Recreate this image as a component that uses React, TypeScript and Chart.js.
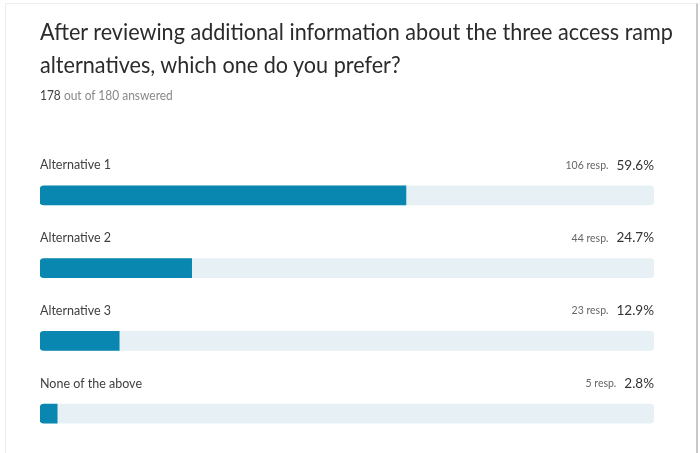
import React, { useEffect, useRef } from "react";
import { Chart, registerables } from "chart.js";

Chart.register(...registerables);

const titleLines = [
  "After reviewing additional information about the three access ramp",
  "alternatives, which one do you prefer?",
];
const answered = 178;
const total = 180;
const categories = ["Alternative 1", "Alternative 2", "Alternative 3", "None of the above"];
const responses = [106, 44, 23, 5];
const percents = [59.6, 24.7, 12.9, 2.8];
const trackValues = [100, 100, 100, 100];

const FONT = "Lato, 'Open Sans', sans-serif";
const BAR_COLOR = "#0a87b0";
const TRACK_COLOR = "#e7f1f5";

const labelPlugin = {
  id: "rowLabels",
  afterDatasetsDraw(chart: any) {
    const ctx = chart.ctx;
    const meta = chart.getDatasetMeta(1);
    const area = chart.chartArea;
    ctx.save();
    meta.data.forEach((el: any, i: number) => {
      const y = el.y - 30;
      ctx.textBaseline = "middle";
      ctx.textAlign = "left";
      ctx.fillStyle = "#404040";
      ctx.font = `12.5px ${FONT}`;
      ctx.fillText(categories[i], area.left, y);
      ctx.textAlign = "right";
      ctx.font = `13.5px ${FONT}`;
      ctx.fillStyle = "#333333";
      const pct = `${percents[i].toFixed(1)}%`;
      ctx.fillText(pct, area.right, y);
      const w = ctx.measureText(pct).width;
      ctx.font = `10.5px ${FONT}`;
      ctx.fillStyle = "#666666";
      ctx.fillText(`${responses[i]} resp.`, area.right - w - 8, y);
    });
    ctx.restore();
  },
};

export default function App() {
  const ref = useRef<HTMLCanvasElement>(null);
  useEffect(() => {
    if (!ref.current) return;
    const chart = new Chart(ref.current, {
      type: "bar",
      data: {
        labels: categories,
        datasets: [
          {
            label: "Percent",
            data: percents,
            backgroundColor: BAR_COLOR,
            borderSkipped: false,
            borderRadius: { topLeft: 4, bottomLeft: 4, topRight: 0, bottomRight: 0 },
            barThickness: 19,
            grouped: false,
            order: 0,
          } as any,
          {
            label: "Track",
            data: trackValues,
            backgroundColor: TRACK_COLOR,
            borderSkipped: false,
            borderRadius: 4,
            barThickness: 19,
            grouped: false,
            order: 1,
          } as any,
        ],
      },
      options: {
        indexAxis: "y",
        animation: false,
        responsive: false,
        maintainAspectRatio: false,
        layout: { padding: { top: 159, bottom: 3, left: 40, right: 46 } },
        scales: {
          x: { display: false, min: 0, max: 100 },
          y: { display: false },
        },
        plugins: {
          legend: { display: false },
          tooltip: { enabled: false },
        },
      },
      plugins: [labelPlugin],
    });
    return () => chart.destroy();
  }, []);

  return (
    <div style={{ position: "absolute", left: 0, top: 0, width: 700, height: 453, background: "#fff", overflow: "hidden" }}>
      <div
        style={{
          position: "absolute",
          left: 5,
          top: 3,
          width: 693,
          height: 470,
          border: "1px solid #ededed",
          borderRight: "2px solid #c8c8c8",
          boxSizing: "border-box",
        }}
      />
      <canvas ref={ref} width={700} height={453} style={{ position: "absolute", left: 0, top: 0 }} />
      <div
        style={{
          position: "absolute",
          left: 40,
          top: 14,
          fontFamily: FONT,
          fontSize: 24,
          lineHeight: "33px",
          color: "#2b2b2b",
          whiteSpace: "nowrap",
          transform: "scaleX(0.9)",
          transformOrigin: "left top",
        }}
      >
        {titleLines.map((l, i) => (
          <div key={i}>{l}</div>
        ))}
      </div>
      <div
        style={{
          position: "absolute",
          left: 40,
          top: 86,
          fontFamily: FONT,
          fontSize: 13,
          lineHeight: "18px",
          color: "#888",
          whiteSpace: "nowrap",
          transform: "scaleX(0.92)",
          transformOrigin: "left top",
        }}
      >
        <span style={{ color: "#404040" }}>{answered}</span> out of {total} answered
      </div>
    </div>
  );
}
